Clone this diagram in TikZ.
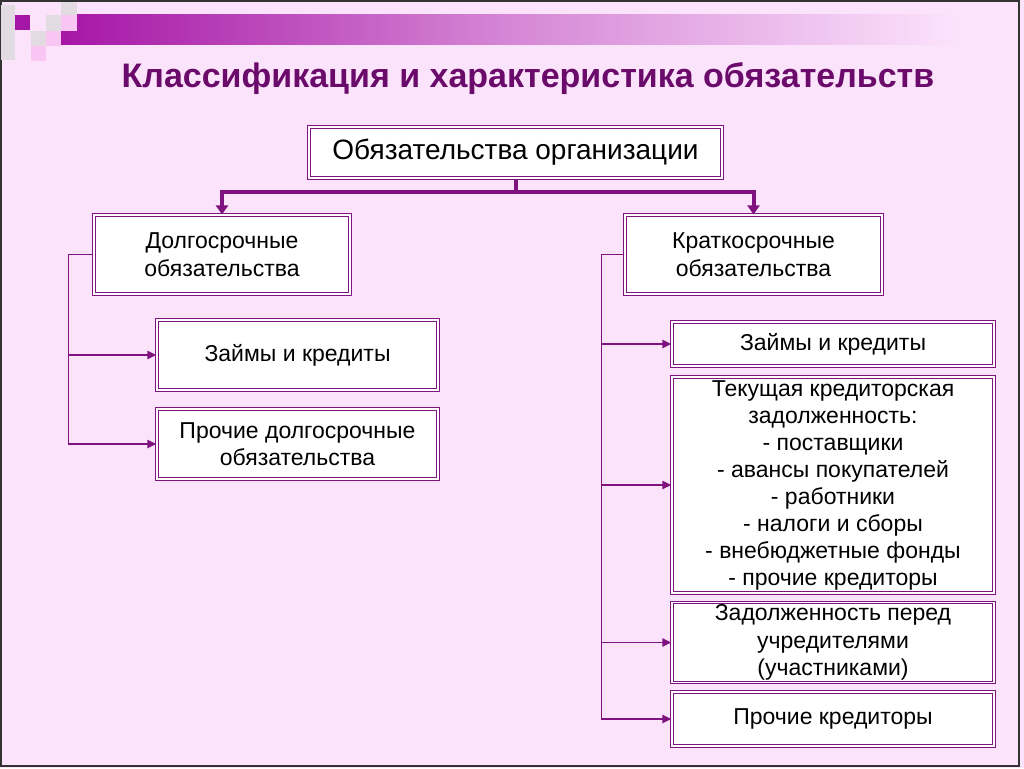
\documentclass[tikz,border=0pt]{standalone}
\usepackage{fontspec}
\setmainfont{Liberation Sans}
\usetikzlibrary{arrows.meta}

\definecolor{slidebg}{HTML}{FCE3FC}
\definecolor{boxline}{HTML}{7E127E}
\definecolor{titlecol}{HTML}{6A0A6A}
\definecolor{barcol}{HTML}{A616A6}
\definecolor{tilegrey}{HTML}{E2DCE2}
\definecolor{tilepink}{HTML}{F9C6F4}

\tikzset{
  box/.style={draw=boxline, line width=1.1pt, double=white, double distance=1.6pt,
    fill=white, align=center, inner sep=2pt, font=\fontsize{23}{27.5}\selectfont},
  trunk/.style={draw=boxline, line width=4pt},
  branch/.style={draw=boxline, line width=1.8pt, -{Triangle[length=9pt,width=8pt]}},
}

\begin{document}
\begin{tikzpicture}[x=1pt,y=-1pt]
  % Slide
  \useasboundingbox (0,0) rectangle (1024,768);
  \fill[slidebg] (0,0) rectangle (1024,768);
  \draw[black!80, line width=1.5pt] (1,1) rectangle (1019,766);

  % Banner
  \shade[left color=barcol, right color=slidebg, middle color=barcol!45!slidebg] (61,15) rectangle (960,45);
  \fill[tilegrey] (1,5) rectangle (15,60);
  \fill[barcol] (15,15) rectangle ++(15,15);
  \fill[tilegrey] (31,31) rectangle ++(15,15);
  \fill[tilepink] (31,46) rectangle ++(15,15);
  \fill[tilegrey] (46,15) rectangle ++(15,16);
  \fill[tilepink] (46,31) rectangle ++(15,15);
  \fill[tilegrey] (61,2) rectangle ++(16,13);
  \fill[tilepink] (61,15) rectangle ++(16,16);

  \node[font=\fontsize{34}{40}\bfseries, text=titlecol] (title) at (528,79)
    {Классификация и характеристика обязательств};

  % Levels
  \node[box, minimum width=413pt, minimum height=51pt, font=\fontsize{28}{32}\selectfont]
    (org) at (515.5,152.5) {Обязательства организации};
  \node[box, minimum width=256pt, minimum height=79pt] (long) at (222,254.5)
    {Долгосрочные\\обязательства};
  \node[box, minimum width=257pt, minimum height=79pt] (short) at (753.5,254.5)
    {Краткосрочные\\обязательства};

  % Long-term
  \node[box, minimum width=281pt, minimum height=70pt] (lloan) at (297.5,355)
    {Займы и кредиты};
  \node[box, minimum width=281pt, minimum height=70pt] (lother) at (297.5,444)
    {Прочие долгосрочные\\обязательства};

  % Short-term
  \node[box, minimum width=322pt, minimum height=44pt] (sloan) at (833,344)
    {Займы и кредиты};
  \node[box, minimum width=322pt, minimum height=216pt, font=\fontsize{23}{27}\selectfont] (spay) at (833,485)
    {Текущая кредиторская\\задолженность:\\- поставщики\\- авансы покупателей\\- работники\\- налоги и сборы\\- внебюджетные фонды\\- прочие кредиторы};
  \node[box, minimum width=322pt, minimum height=79pt] (sfound) at (833,642.5)
    {Задолженность перед\\учредителями\\(участниками)};
  \node[box, minimum width=322pt, minimum height=54pt] (sother) at (833,719)
    {Прочие кредиторы};

  % Connectors
  \coordinate (fork) at (515.5,192);
  \draw[trunk] (org.south) -- (fork);
  \draw[trunk, -{Triangle[length=9pt,width=12pt]}] (fork) -| (long.north);
  \draw[trunk, -{Triangle[length=9pt,width=12pt]}] (fork) -| (short.north);

  \draw[branch] (long.west) -- ++(-25,0) |- (lloan.west);
  \draw[branch] (long.west) -- ++(-25,0) |- (lother.west);

  \foreach \n in {sloan,spay,sfound,sother}
    \draw[branch] (short.west) -- ++(-23,0) |- (\n.west);
\end{tikzpicture}
\end{document}
